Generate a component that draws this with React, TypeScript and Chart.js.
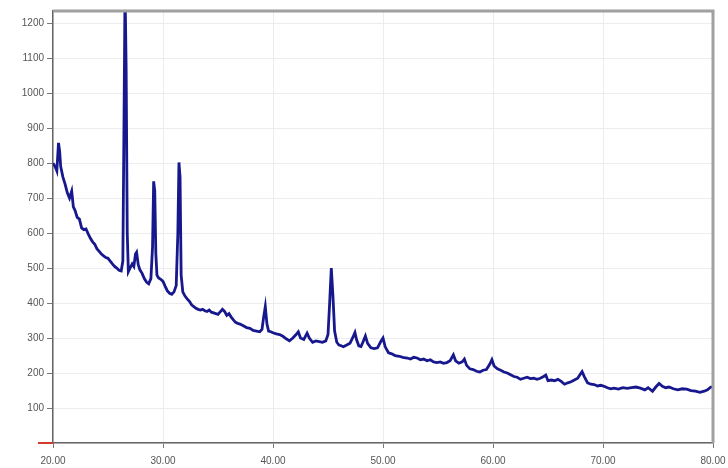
import React, { useEffect, useRef } from "react";
import { Chart, registerables } from "chart.js";

Chart.register(...registerables);

const twoTheta: number[] = [
  20.0, 20.2, 20.35, 20.5, 20.6, 20.7, 20.9, 21.1, 21.3, 21.5, 21.7, 21.85, 22.0, 22.2, 22.4, 22.6, 22.8, 23.0, 23.2, 23.4,
  23.6, 23.8, 24.0, 24.2, 24.4, 24.6, 24.8, 25.0, 25.2, 25.4, 25.6, 25.8, 26.0, 26.2, 26.35, 26.45, 26.55, 26.65, 26.75, 26.85,
  27.0, 27.2, 27.35, 27.5, 27.6, 27.75, 27.9, 28.1, 28.3, 28.5, 28.7, 28.9, 29.05, 29.15, 29.25, 29.35, 29.45, 29.6, 29.8, 30.0,
  30.2, 30.4, 30.6, 30.8, 31.0, 31.2, 31.35, 31.45, 31.55, 31.65, 31.8, 32.0, 32.2, 32.4, 32.6, 32.8, 33.0, 33.2, 33.4, 33.6,
  33.8, 34.0, 34.2, 34.4, 34.6, 34.8, 35.0, 35.2, 35.4, 35.6, 35.8, 36.0, 36.2, 36.4, 36.6, 36.8, 37.0, 37.3, 37.6, 37.9,
  38.2, 38.5, 38.8, 39.0, 39.15, 39.3, 39.45, 39.6, 39.8, 40.0, 40.3, 40.6, 40.9, 41.2, 41.5, 41.8, 42.1, 42.3, 42.5, 42.8,
  43.1, 43.3, 43.6, 43.9, 44.2, 44.5, 44.8, 45.0, 45.15, 45.3, 45.45, 45.6, 45.8, 46.0, 46.2, 46.4, 46.7, 47.0, 47.3, 47.45,
  47.6, 47.8, 48.0, 48.2, 48.4, 48.6, 48.9, 49.2, 49.5, 49.8, 50.0, 50.2, 50.5, 50.8, 51.1, 51.5, 51.8, 52.2, 52.5, 52.8,
  53.1, 53.4, 53.7, 54.0, 54.3, 54.6, 54.9, 55.2, 55.5, 55.8, 56.1, 56.4, 56.6, 56.9, 57.2, 57.4, 57.6, 57.9, 58.2, 58.5,
  58.8, 59.1, 59.4, 59.7, 59.9, 60.1, 60.4, 60.7, 61.0, 61.3, 61.6, 61.9, 62.2, 62.5, 62.8, 63.1, 63.4, 63.7, 64.0, 64.3,
  64.6, 64.8, 65.0, 65.3, 65.6, 65.9, 66.2, 66.5, 66.8, 67.1, 67.4, 67.7, 67.9, 68.1, 68.3, 68.6, 68.9, 69.2, 69.5, 69.8,
  70.1, 70.4, 70.7, 71.0, 71.4, 71.8, 72.2, 72.6, 73.0, 73.4, 73.8, 74.1, 74.5, 74.8, 75.1, 75.4, 75.7, 76.0, 76.4, 76.8,
  77.2, 77.6, 78.0, 78.4, 78.8, 79.2, 79.5, 79.8, 80.0,
];

const intensity: number[] = [
  800, 790, 778, 858, 835, 790, 760, 740, 715, 700, 720, 675, 665, 645, 640, 615, 610, 612, 598, 585,
  575, 568, 555, 548, 540, 535, 530, 528, 520, 512, 505, 500, 494, 492, 520, 900, 1300, 1070, 600, 490,
  500, 512, 505, 540, 545, 510, 495, 485, 470, 460, 455, 470, 560, 748, 720, 540, 480, 472, 468, 462,
  448, 435, 428, 425, 432, 450, 600, 802, 760, 480, 432, 420, 412, 405, 395, 390, 385, 382, 380, 382,
  378, 376, 380, 374, 372, 370, 368, 375, 382, 376, 365, 370, 360, 352, 345, 342, 340, 335, 330, 328,
  322, 320, 318, 325, 360, 390, 340, 320, 318, 315, 312, 310, 305, 298, 292, 300, 310, 318, 300, 296,
  314, 300, 288, 292, 290, 288, 292, 310, 400, 500, 420, 320, 288, 280, 278, 275, 280, 285, 305, 316,
  295, 278, 276, 290, 306, 285, 272, 270, 272, 290, 300, 275, 258, 255, 250, 248, 245, 243, 240, 245,
  243, 238, 240, 235, 238, 232, 230, 232, 228, 230, 235, 252, 235, 228, 232, 240, 222, 212, 210, 205,
  203, 208, 210, 225, 238, 220, 212, 208, 203, 200, 195, 190, 188, 182, 185, 188, 184, 185, 182, 185,
  190, 194, 178, 180, 178, 182, 176, 168, 172, 175, 180, 185, 195, 204, 190, 172, 168, 167, 163, 165,
  162, 158, 155, 157, 154, 158, 156, 158, 160, 157, 152, 158, 148, 160, 170, 162, 158, 160, 155, 152,
  155, 154, 150, 148, 145, 148, 152, 160, 160,
];

const xMin = 20;
const xMax = 80;
const xStep = 10;
const yMax = 1235;
const yStep = 100;

const framePlugin = {
  id: "frame",
  afterDraw(chart: any) {
    const { ctx, chartArea } = chart;
    const { left, right, top, bottom } = chartArea;
    ctx.save();
    ctx.strokeStyle = "#a0a0a0";
    ctx.lineWidth = 3;
    ctx.beginPath();
    ctx.moveTo(left, top);
    ctx.lineTo(right, top);
    ctx.lineTo(right, bottom);
    ctx.stroke();
    ctx.strokeStyle = "#d43a2a";
    ctx.lineWidth = 2;
    ctx.beginPath();
    ctx.moveTo(left - 15, bottom);
    ctx.lineTo(left, bottom);
    ctx.stroke();
    ctx.restore();
  },
};

export default function App() {
  const ref = useRef<HTMLCanvasElement | null>(null);
  useEffect(() => {
    if (!ref.current) return;
    const points = twoTheta.map((x, i) => ({ x, y: intensity[i] }));
    const chart = new Chart(ref.current, {
      type: "line",
      data: {
        datasets: [
          {
            data: points,
            borderColor: "#18188e",
            borderWidth: 2.8,
            pointRadius: 0,
            tension: 0,
            fill: false,
          },
        ],
      },
      options: {
        animation: false,
        responsive: false,
        maintainAspectRatio: false,
        layout: { padding: { top: 11, right: 15, left: 0, bottom: 0 } },
        plugins: { legend: { display: false }, tooltip: { enabled: false } },
        scales: {
          x: {
            type: "linear",
            min: xMin,
            max: xMax,
            afterFit: (s: any) => {
              s.height = 25;
              s.paddingLeft = 0;
              s.paddingRight = 0;
            },
            ticks: {
              stepSize: xStep,
              color: "#555",
              font: { family: "Liberation Sans", size: 10 },
              padding: 7,
              maxRotation: 0,
              callback: (v: any) => Number(v).toFixed(2),
            },
            grid: { color: "#ececec", tickLength: 5, tickColor: "#777" },
            border: { color: "#666", width: 1.5 },
          },
          y: {
            min: 0,
            max: yMax,
            afterFit: (s: any) => {
              s.width = 53;
            },
            afterBuildTicks: (s: any) => {
              const t = [];
              for (let v = 0; v <= yMax; v += yStep) t.push({ value: v });
              s.ticks = t;
            },
            ticks: {
              color: "#555",
              font: { family: "Liberation Sans", size: 10 },
              padding: 3,
              callback: (v: any) => (Number(v) === 0 ? "" : String(v)),
            },
            grid: { color: "#ececec", tickLength: 6, tickColor: "#777" },
            border: { color: "#666", width: 1.5 },
          },
        },
      },
      plugins: [framePlugin],
    });
    return () => chart.destroy();
  }, []);
  return (
    <div style={{ position: "absolute", left: 0, top: 0, width: 728, height: 468, background: "#fff" }}>
      <canvas ref={ref} width={728} height={468} style={{ width: 728, height: 468 }} />
    </div>
  );
}
